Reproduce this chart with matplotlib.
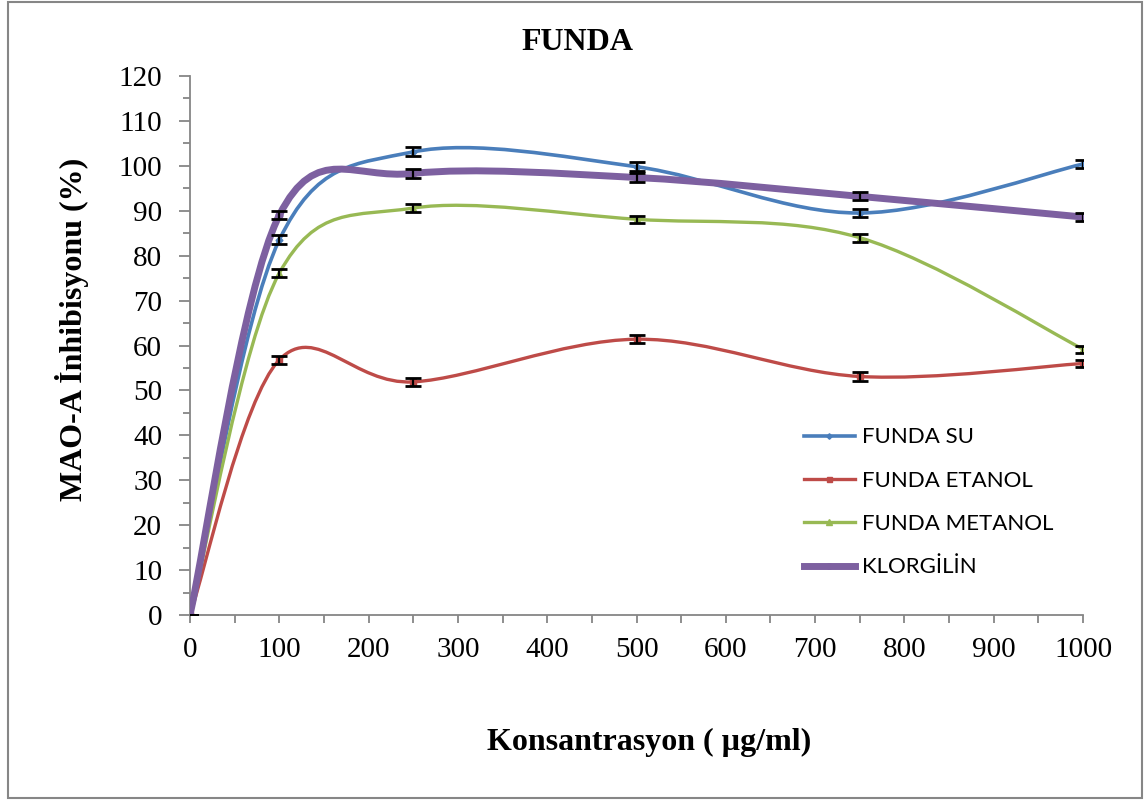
import matplotlib
matplotlib.use("Agg")
import matplotlib.pyplot as plt
import numpy as np
from matplotlib.path import Path
from matplotlib.patches import PathPatch, Rectangle
from matplotlib.lines import Line2D

# concentrations (ug/ml)
konsantrasyon = [0, 100, 250, 500, 750, 1000]

# MAO-A inhibition (%)
funda_su = [0, 83.5, 103.1, 99.8, 89.5, 100.4]
funda_etanol = [0, 56.8, 51.9, 61.4, 53.1, 56.0]
funda_metanol = [0, 76.1, 90.6, 88.1, 84.0, 59.2]
klorgilin = [0, 89.0, 98.3, 97.4, 93.2, 88.6]

# error bars (+/-)
err_su = [0, 1.0, 1.0, 1.0, 1.0, 0.8]
err_etanol = [0, 0.9, 0.9, 0.9, 0.9, 0.8]
err_metanol = [0, 0.9, 0.9, 0.8, 0.9, 0.8]
err_klorgilin = [0, 0.9, 0.9, 1.0, 0.9, 0.8]

labels = ["FUNDA SU", "FUNDA ETANOL", "FUNDA METANOL", "KLORGİLİN"]

serif = "Liberation Serif"


def smooth_path(x, y):
    # Excel-style smoothed line: cubic bezier segments (Catmull-Rom control points)
    pts = np.column_stack([x, y]).astype(float)
    n = len(pts)
    verts = [pts[0]]
    codes = [Path.MOVETO]
    for i in range(n - 1):
        p0 = pts[max(i - 1, 0)]
        p1 = pts[i]
        p2 = pts[i + 1]
        p3 = pts[min(i + 2, n - 1)]
        c1 = p1 + (p2 - p0) / 6.0
        c2 = p2 - (p3 - p1) / 6.0
        verts += [c1, c2, p2]
        codes += [Path.CURVE4] * 3
    return Path(verts, codes)


fig = plt.figure(figsize=(11.48, 8.0), dpi=100)
ax = fig.add_axes([0.1655, 0.23125, 0.7779, 0.67375])

series = [
    (funda_su, err_su, "#4A7EBB", 2.6, "D", 3.5),
    (funda_etanol, err_etanol, "#BE4B48", 2.4, "s", 4.5),
    (funda_metanol, err_metanol, "#98B954", 2.4, "^", 5),
    (klorgilin, err_klorgilin, "#7D60A0", 5.0, "o", 5),
]

handles = []
for k, (vals, err, col, lw, mk, ms) in enumerate(series):
    patch = PathPatch(smooth_path(konsantrasyon, vals), fill=False,
                      edgecolor=col, lw=lw, capstyle="round",
                      joinstyle="round", zorder=2 + k)
    ax.add_patch(patch)
    ax.plot(konsantrasyon, vals, linestyle="none", marker=mk, ms=ms,
            color=col, zorder=2 + k)
    ax.errorbar(konsantrasyon, vals, yerr=err, fmt="none", ecolor="black",
                elinewidth=1.6, capsize=5.5, capthick=2.0, zorder=10)
    handles.append(Line2D([], [], color=col, lw=lw, marker=mk, ms=ms * 0.8))

ax.set_xlim(0, 1000)
ax.set_ylim(0, 120)
ax.set_xticks(np.arange(0, 1001, 100))
ax.set_xticks(np.arange(0, 1001, 50), minor=True)
ax.set_yticks(np.arange(0, 121, 10))
ax.set_yticks(np.arange(0, 121, 5), minor=True)

for s in ["top", "right"]:
    ax.spines[s].set_visible(False)
for s in ["left", "bottom"]:
    ax.spines[s].set_color("#868686")
    ax.spines[s].set_linewidth(1.3)

ax.tick_params(axis="both", which="both", direction="out", colors="#868686",
               width=1.3, labelcolor="black", labelsize=21)
ax.tick_params(axis="y", which="major", length=8, pad=12)
ax.tick_params(axis="y", which="minor", length=5)
ax.tick_params(axis="x", which="both", length=6, pad=10)
for lab in ax.get_xticklabels() + ax.get_yticklabels():
    lab.set_fontfamily(serif)

ax.set_ylabel("MAO-A İnhibisyonu (%)", fontsize=23, fontweight="bold",
              fontfamily=serif)
ax.yaxis.set_label_coords(-0.113, 0.53)
ax.set_xlabel("Konsantrasyon ( µg/ml)", fontsize=23, fontweight="bold",
              fontfamily=serif)
ax.xaxis.set_label_coords(0.514, -0.21)
fig.text(0.5026, 0.947, "FUNDA", ha="center", va="center", fontsize=23,
         fontweight="bold", fontfamily=serif)

leg = ax.legend(handles, labels, loc="upper left",
                bbox_to_anchor=(0.665, 0.385), frameon=False,
                prop={"family": "Lato", "size": 16}, handlelength=2.3,
                handletextpad=0.3, labelspacing=1.05)

fig.patches.append(Rectangle((0.007, 0.003), 0.988, 0.994,
                             transform=fig.transFigure, fill=False,
                             edgecolor="#868686", lw=1.5))

fig.savefig("out.png", dpi=100)
